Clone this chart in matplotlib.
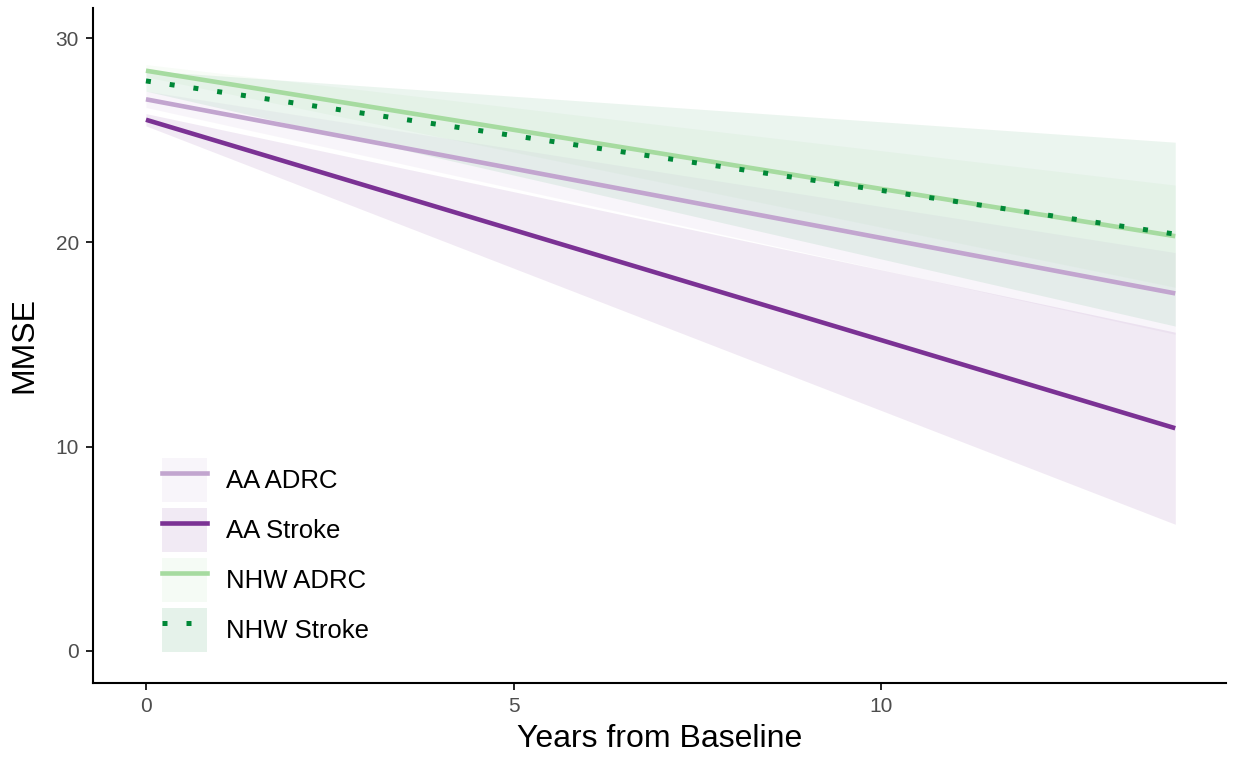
import matplotlib.pyplot as plt
from matplotlib.patches import Patch
from matplotlib.lines import Line2D

plt.rcParams['font.family'] = ['Liberation Sans', 'DejaVu Sans']

# fitted trajectories (start / end of follow-up)
years = [0, 14]
groups = ['AA ADRC', 'AA Stroke', 'NHW ADRC', 'NHW Stroke']
colors = ['#c2a5cf', '#7b3294', '#a6dba0', '#008837']
fit = {
    'AA ADRC': [27.0, 17.5],
    'AA Stroke': [26.0, 10.9],
    'NHW ADRC': [28.4, 20.3],
    'NHW Stroke': [27.9, 20.4],
}
lower = {
    'AA ADRC': [26.6, 15.5],
    'AA Stroke': [25.7, 6.2],
    'NHW ADRC': [28.1, 17.8],
    'NHW Stroke': [27.4, 15.9],
}
upper = {
    'AA ADRC': [27.4, 19.5],
    'AA Stroke': [26.3, 15.6],
    'NHW ADRC': [28.7, 22.8],
    'NHW Stroke': [28.4, 24.9],
}

fig = plt.figure(figsize=(12.35, 7.59), dpi=100)
ax = fig.add_axes([0.0753, 0.1001, 0.9174, 0.8894])

for g, c in zip(groups, colors):
    a = 0.08 if g.startswith('NHW') else 0.1
    ax.fill_between(years, lower[g], upper[g], color=c, alpha=a, lw=0)

handles = []
for g, c in zip(groups, colors):
    if g == 'NHW Stroke':
        ls = (0, (1, 3.8))
        lw = 3.6
    else:
        ls = '-'
        lw = 3.3
    ax.plot(years, fit[g], color=c, lw=lw, ls=ls, solid_capstyle='butt',
            dash_capstyle='butt')
    handles.append((Patch(facecolor=c, alpha=0.1, lw=0),
                    Line2D([], [], color=c, lw=lw, ls=ls, dash_capstyle='butt')))

ax.set_xlim(-0.72, 14.69)
ax.set_ylim(-1.57, 31.47)
ax.set_xticks([0, 5, 10])
ax.set_yticks([0, 10, 20, 30])
ax.tick_params(labelsize=15, labelcolor='#4d4d4d', length=5, width=1.2, pad=5)
for s in ['top', 'right']:
    ax.spines[s].set_visible(False)
for s in ['left', 'bottom']:
    ax.spines[s].set_linewidth(1.5)

ax.set_xlabel('Years from Baseline', fontsize=23, labelpad=6)
ax.set_ylabel('MMSE', fontsize=23, labelpad=12)

ax.legend(handles, groups, loc='upper left', bbox_to_anchor=(0.061, 0.333),
          frameon=False, fontsize=18.5, handlelength=1.75, handleheight=2.25,
          labelspacing=0.24, handletextpad=0.75, borderpad=0, borderaxespad=0)

fig.savefig('out.png', dpi=100)
